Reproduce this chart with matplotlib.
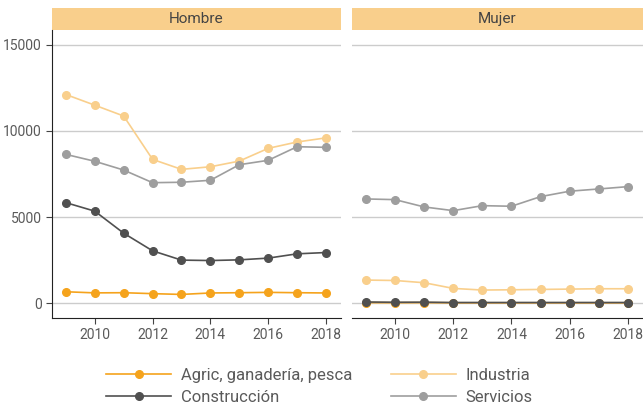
import matplotlib.pyplot as plt
from matplotlib.patches import Rectangle
from matplotlib.lines import Line2D

plt.rcParams['font.family'] = ['Roboto', 'DejaVu Sans']

years = [2009, 2010, 2011, 2012, 2013, 2014, 2015, 2016, 2017, 2018]

# Hombre
h_agric = [655, 590, 600, 545, 500, 585, 600, 620, 600, 585]
h_industria = [12120, 11500, 10870, 8350, 7770, 7920, 8250, 8990, 9360, 9600]
h_construccion = [5835, 5340, 4060, 3035, 2495, 2470, 2510, 2610, 2860, 2935]
h_servicios = [8640, 8240, 7730, 6995, 7020, 7135, 8040, 8295, 9085, 9050]

# Mujer
m_agric = [25, 20, 25, 15, 15, 15, 15, 15, 15, 15]
m_industria = [1335, 1310, 1180, 850, 755, 770, 790, 810, 830, 830]
m_construccion = [60, 45, 50, 30, 30, 30, 30, 30, 30, 30]
m_servicios = [6050, 6010, 5585, 5370, 5660, 5625, 6185, 6500, 6630, 6765]

series_names = ['Agric, ganadería, pesca', 'Industria', 'Construcción', 'Servicios']
colors = ['#F5A31C', '#F9CF8C', '#505050', '#9E9E9E']
panels = ['Hombre', 'Mujer']
data = {
    'Hombre': [h_agric, h_industria, h_construccion, h_servicios],
    'Mujer': [m_agric, m_industria, m_construccion, m_servicios],
}

fig = plt.figure(figsize=(6.43, 4.05), dpi=100)
W, H = 643, 405
top_px, bot_px = 30, 318
positions = [(52, 341), (352, 643)]
text_col = '#5a5a5a'

for (x0, x1), name in zip(positions, panels):
    ax = fig.add_axes([x0 / W, 1 - bot_px / H, (x1 - x0) / W, (bot_px - top_px) / H])
    for vals, c in zip(data[name], colors):
        ax.plot(years, vals, color=c, lw=1.2, marker='o', ms=5.5, mec=c, zorder=3)
    ax.set_xlim(2008.52, 2018.52)
    ax.set_ylim(-870, 15870)
    ax.set_yticks([0, 5000, 10000, 15000])
    ax.set_xticks([2010, 2012, 2014, 2016, 2018])
    ax.grid(axis='y', color='#CCCCCC', lw=1)
    ax.set_axisbelow(True)
    for s in ['top', 'right']:
        ax.spines[s].set_visible(False)
    ax.spines['bottom'].set_color('#222222')
    ax.spines['left'].set_color('#222222')
    ax.tick_params(colors='#444444', labelcolor=text_col, labelsize=10, length=4)
    if name == 'Mujer':
        ax.spines['left'].set_visible(False)
        ax.tick_params(axis='y', left=False, labelleft=False)
    strip_h = 22 / (bot_px - top_px)
    ax.add_patch(Rectangle((0, 1), 1, strip_h, transform=ax.transAxes,
                           facecolor='#F9CF8C', edgecolor='none', clip_on=False))
    ax.text(0.5, 1 + strip_h / 2, name, transform=ax.transAxes, ha='center',
            va='center', fontsize=11, color='#444444')

handles = [Line2D([], [], color=c, lw=1.2, marker='o', ms=5.5) for c in colors]
order = [0, 2, 1, 3]
fig.legend([handles[i] for i in order], [series_names[i] for i in order],
           ncol=2, loc='center', bbox_to_anchor=(0.497, 0.046), frameon=False,
           handlelength=3.9, fontsize=12, labelcolor=text_col,
           columnspacing=2.3, handletextpad=0.6, labelspacing=0.4)

fig.savefig('out.png', dpi=100)
